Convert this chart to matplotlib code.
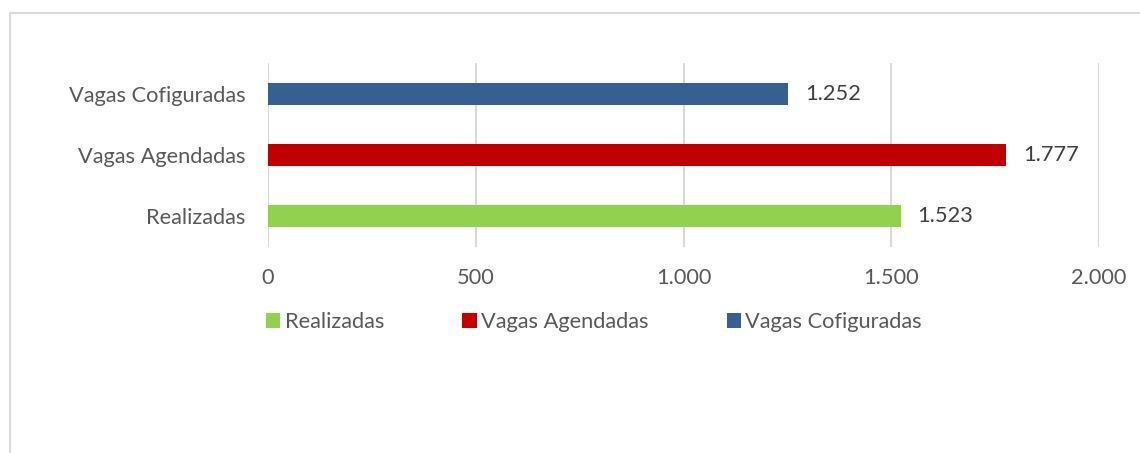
import matplotlib
matplotlib.use("Agg")
import matplotlib.pyplot as plt
from matplotlib.patches import Rectangle, Patch

categories = ["Realizadas", "Vagas Agendadas", "Vagas Cofiguradas"]
values = [1523, 1777, 1252]
colors = ["#92D050", "#C00000", "#376092"]
xticks = [0, 500, 1000, 1500, 2000]
xtick_labels = ["0", "500", "1.000", "1.500", "2.000"]
value_labels = ["1.523", "1.777", "1.252"]

W, H = 1140, 453
fig = plt.figure(figsize=(W / 100, H / 100), dpi=100)
plt.rcParams['font.family'] = ['Lato', 'DejaVu Sans']
txt = "#595959"
fs = 15.7

ax = fig.add_axes([268 / W, 1 - 247 / H, (1099 - 268) / W, (247 - 63) / H])
ypos = list(range(len(categories)))
ax.barh(ypos, values, height=0.36, color=colors, zorder=3)
ax.set_xlim(0, 2000)
ax.set_ylim(-0.5, 2.5)
ax.set_yticks(ypos)
ax.set_yticklabels(categories, fontsize=fs, color=txt)
ax.set_xticks(xticks)
ax.set_xticklabels(xtick_labels, fontsize=fs, color=txt)
ax.tick_params(axis='both', length=0)
ax.tick_params(axis='x', pad=15)
ax.tick_params(axis='y', pad=16)
for s in ax.spines.values():
    s.set_visible(False)
ax.grid(axis='x', color="#D9D9D9", linewidth=1.5, zorder=0)
ax.set_axisbelow(True)

for y, v, lab in zip(ypos, values, value_labels):
    ax.annotate(lab, (v, y), xytext=(12, 0), textcoords='offset points',
                va='center', ha='left', fontsize=fs, color="#404040")

handles = [Patch(facecolor=c, edgecolor='none') for c in colors]
fig.legend(handles, categories, loc='center left', bbox_to_anchor=(266 / W, 1 - 322 / H),
           ncol=3, frameon=False, fontsize=fs, handlelength=0.65, handleheight=0.65,
           handletextpad=0.2, columnspacing=3.6, labelcolor=txt, borderaxespad=0, borderpad=0)

fig.patches.append(Rectangle((9.5 / W, -0.1), 1.2, 1 - 12.5 / H + 0.1, transform=fig.transFigure,
                             fill=False, edgecolor="#D9D9D9", linewidth=1.5))

fig.savefig("out.png", dpi=100, facecolor='white')
